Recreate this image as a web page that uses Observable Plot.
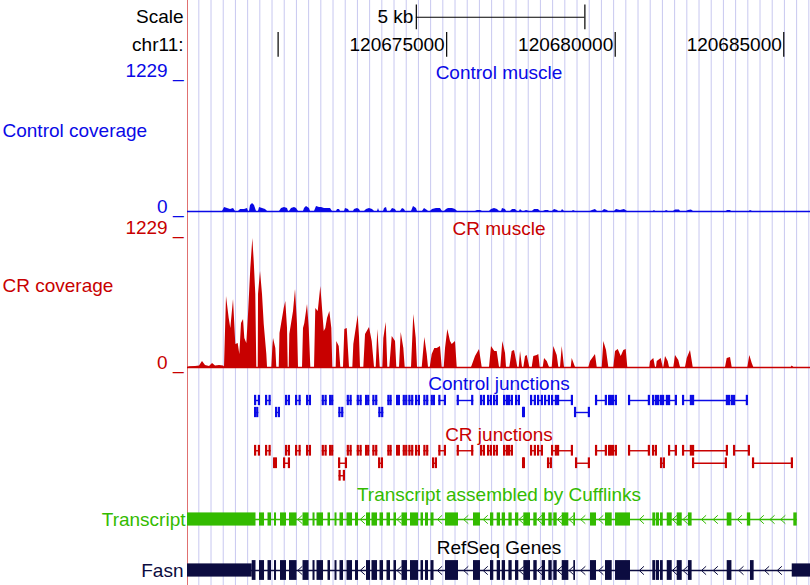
<!DOCTYPE html>
<html><head><meta charset="utf-8">
<script src="https://cdn.jsdelivr.net/npm/d3@7"></script>
<script src="https://cdn.jsdelivr.net/npm/@observablehq/plot@0.6"></script>
<style>
body{margin:0;background:#fff;}
#chart{width:810px;position:relative;}
#chart svg{display:block;}
</style></head><body><div id="chart"></div>
<script>
// Positions are kb offsets from chr11:120,670,000
const chrName = "chr11:";
const chrStart = 120670000;
const xDomain = [-2.688, 15.793];
const chrTicks = [0, 5, 10, 15];
const chrTickLabels = [5, 10, 15];
const scaleBar = [4.1, 9.1];
const scaleLabel = "5 kb";
const covMax = 1229;

const crCoverage = [[-2.688,0],[-2.628,6],[-2.450,9],[-2.332,14],[-2.243,55],[-2.154,18],[-2.035,9],[-1.946,36],[-1.857,14],[-1.738,18],[-1.620,14],[-1.590,5],[-1.531,646],[-1.451,446],[-1.403,355],[-1.323,619],[-1.255,209],[-1.184,218],[-1.136,118],[-1.086,400],[-1.026,437],[-0.988,264],[-0.928,218],[-0.878,482],[-0.810,901],[-0.750,1174],[-0.709,965],[-0.662,664],[-0.632,0],[-0.590,0],[-0.581,664],[-0.522,874],[-0.463,664],[-0.412,391],[-0.335,118],[-0.314,0],[-0.187,0],[-0.157,182],[-0.136,264],[-0.068,173],[-0.039,0],[0.033,0],[0.056,309],[0.181,537],[0.228,601],[0.279,355],[0.300,0],[0.329,0],[0.347,300],[0.457,510],[0.516,710],[0.575,391],[0.605,0],[0.724,0],[0.753,355],[0.792,400],[0.872,573],[0.923,355],[0.970,0],[1.080,0],[1.118,537],[1.190,510],[1.267,737],[1.317,537],[1.368,328],[1.415,355],[1.465,446],[1.534,510],[1.593,355],[1.623,0],[1.723,0],[1.741,237],[1.813,191],[1.860,0],[1.940,0],[1.979,346],[2.050,355],[2.118,0],[2.216,0],[2.246,209],[2.376,473],[2.415,273],[2.444,0],[2.542,0],[2.593,300],[2.711,364],[2.791,237],[2.860,0],[2.910,0],[2.958,346],[3.029,0],[3.106,0],[3.136,264],[3.207,410],[3.254,0],[3.313,0],[3.385,282],[3.483,237],[3.521,0],[3.601,0],[3.652,319],[3.729,173],[3.770,0],[3.957,0],[4.025,482],[4.097,264],[4.135,0],[4.275,0],[4.352,273],[4.423,118],[4.461,0],[4.512,0],[4.571,118],[4.648,173],[4.720,173],[4.817,191],[4.868,0],[4.927,0],[4.966,173],[5.034,346],[5.114,237],[5.164,209],[5.262,237],[5.313,0],[5.737,0],[5.856,100],[5.974,164],[6.054,0],[6.271,0],[6.330,191],[6.428,146],[6.499,146],[6.568,0],[6.606,0],[6.666,237],[6.746,127],[6.775,0],[6.873,0],[6.944,146],[7.013,155],[7.072,64],[7.110,0],[7.152,0],[7.191,146],[7.250,0],[7.289,0],[7.339,100],[7.389,109],[7.467,0],[7.538,0],[7.585,100],[7.686,109],[7.733,118],[7.775,0],[7.864,0],[7.903,82],[7.983,55],[8.051,0],[8.131,0],[8.178,191],[8.279,109],[8.327,0],[8.377,0],[8.428,191],[8.496,0],[8.695,0],[8.724,82],[8.822,0],[9.217,0],[9.267,55],[9.415,118],[9.466,0],[9.614,0],[9.662,237],[9.742,155],[9.810,0],[9.958,0],[10.009,146],[10.089,164],[10.178,100],[10.255,155],[10.326,164],[10.373,0],[11.026,0],[11.047,55],[11.145,82],[11.195,0],[11.225,0],[11.246,55],[11.364,82],[11.424,0],[11.441,0],[11.492,100],[11.572,55],[11.611,0],[11.738,0],[11.789,109],[11.886,64],[11.937,0],[12.085,0],[12.136,82],[12.233,155],[12.314,0],[13.272,0],[13.322,82],[13.420,91],[13.470,0],[13.933,0],[13.993,109],[14.064,36],[14.111,0],[15.221,0],[15.250,14],[15.298,0],[15.793,0]];

const controlCoverage = [[-2.688,0],[-1.649,0],[-1.590,36],[-1.501,27],[-1.412,18],[-1.323,27],[-1.264,0],[-1.175,0],[-1.115,18],[-0.997,18],[-0.908,27],[-0.878,0],[-0.848,0],[-0.819,55],[-0.759,73],[-0.700,55],[-0.641,0],[-0.581,0],[-0.552,36],[-0.463,27],[-0.374,18],[-0.314,0],[0.042,0],[0.101,27],[0.190,36],[0.279,27],[0.308,0],[0.338,0],[0.397,27],[0.486,36],[0.546,27],[0.605,0],[0.753,0],[0.783,27],[0.842,46],[0.931,27],[0.961,0],[1.080,0],[1.139,46],[1.228,36],[1.287,36],[1.376,27],[1.465,27],[1.554,27],[1.613,0],[1.732,0],[1.762,18],[1.821,18],[1.851,0],[1.970,0],[1.999,27],[2.088,18],[2.118,0],[2.237,0],[2.266,18],[2.355,27],[2.414,18],[2.444,0],[2.563,0],[2.622,18],[2.711,27],[2.800,18],[2.860,0],[2.948,0],[2.978,27],[3.008,0],[3.127,0],[3.156,27],[3.216,36],[3.245,0],[3.334,0],[3.393,27],[3.482,18],[3.512,0],[3.630,0],[3.690,27],[3.749,18],[3.779,0],[3.957,0],[4.016,46],[4.105,27],[4.135,0],[4.283,0],[4.342,27],[4.431,9],[4.461,0],[4.520,0],[4.580,18],[4.698,27],[4.817,27],[4.876,0],[4.936,0],[4.995,18],[5.054,27],[5.173,27],[5.262,18],[5.321,0],[5.855,0],[5.915,9],[6.004,9],[6.063,0],[6.271,0],[6.330,18],[6.419,27],[6.508,18],[6.567,0],[6.627,0],[6.656,27],[6.745,18],[6.775,0],[6.894,0],[6.953,18],[7.042,18],[7.101,0],[7.161,0],[7.190,18],[7.250,0],[7.309,0],[7.368,9],[7.457,0],[7.546,0],[7.606,18],[7.724,18],[7.783,0],[7.872,0],[7.932,9],[8.021,9],[8.050,0],[8.139,0],[8.199,18],[8.288,9],[8.317,0],[8.406,0],[8.436,18],[8.495,0],[8.732,0],[8.762,9],[8.821,0],[9.266,0],[9.326,9],[9.415,18],[9.474,0],[9.622,0],[9.682,18],[9.771,9],[9.800,0],[9.978,0],[10.037,18],[10.156,9],[10.274,18],[10.363,0],[11.135,0],[11.165,9],[11.195,0],[11.491,0],[11.521,9],[11.580,0],[11.728,0],[11.788,14],[11.906,14],[11.936,0],[12.114,0],[12.173,9],[12.262,14],[12.322,0],[13.301,0],[13.330,9],[13.419,9],[13.449,0],[13.983,0],[14.012,9],[14.072,0],[15.793,0]];

// Junctions: [start, end, row]
const controlJunctions = [[-0.700,-0.522,1],[-0.374,-0.205,1],[0.219,0.368,1],[0.516,0.685,1],[0.842,0.991,1],[1.308,1.456,1],[1.525,1.652,1],[2.050,2.198,1],[2.346,2.494,1],[2.592,2.720,1],[2.809,2.957,1],[3.254,3.384,1],[3.512,3.630,1],[3.711,3.847,1],[3.877,4.025,1],[4.075,4.224,1],[4.322,4.470,1],[4.541,4.669,1],[4.766,4.995,1],[5.312,5.805,1],[6.003,6.152,1],[6.211,6.359,1],[6.389,6.537,1],[6.686,6.834,1],[6.834,6.982,1],[7.042,7.190,1],[7.486,7.664,1],[7.694,7.872,1],[7.902,8.080,1],[8.109,8.287,1],[8.287,8.762,1],[9.414,9.770,1],[9.800,9.919,1],[9.919,10.067,1],[10.393,11.046,1],[11.105,11.254,1],[11.254,11.402,1],[11.402,11.580,1],[11.580,11.847,1],[11.995,12.292,1],[12.292,13.360,1],[13.360,13.508,1],[13.508,13.953,1],
 [-0.700,-0.572,2],[-0.077,0.071,2],[1.800,1.949,2],[2.987,3.135,2],[7.249,7.338,2],[8.791,9.266,2]];
const crJunctions = [[-0.700,-0.522,1],[-0.374,-0.205,1],[0.219,0.368,1],[0.516,0.685,1],[0.842,0.991,1],[1.308,1.456,1],[1.525,1.652,1],[2.050,2.198,1],[2.346,2.494,1],[2.592,2.720,1],[2.809,2.957,1],[3.254,3.384,1],[3.512,3.630,1],[3.711,3.847,1],[3.877,4.025,1],[4.075,4.224,1],[4.322,4.470,1],[4.766,4.995,1],[5.312,5.805,1],[6.003,6.152,1],[6.211,6.359,1],[6.389,6.537,1],[6.686,6.834,1],[6.834,6.982,1],[7.486,7.664,1],[7.694,7.872,1],[8.109,8.287,1],[8.287,8.762,1],[9.414,9.770,1],[9.800,9.919,1],[9.919,10.067,1],[10.393,11.046,1],[11.105,11.254,1],[11.580,11.847,1],[11.995,12.292,1],[12.292,13.360,1],[13.508,14.012,1],
 [-0.136,-0.018,2],[0.160,0.368,2],[1.792,2.059,2],[2.979,3.127,2],[4.580,4.728,2],[7.249,7.338,2],[7.990,8.138,2],[8.821,9.266,2],[11.342,11.491,2],[12.292,13.330,2],[14.071,15.288,2],
 [1.806,1.999,3]];

// Gene models: [start, end, kind]  kind: "utr" | "cds"
const refseqExons = [[-2.688,-0.768,"utr"],[-0.768,-0.656,"cds"],[-0.552,-0.403,"cds"],[-0.300,-0.196,"cds"],[-0.107,-0.047,"cds"],[0.071,0.249,"cds"],[0.338,0.561,"cds"],[0.739,0.917,"cds"],[1.035,1.095,"cds"],[1.154,1.347,"cds"],[1.480,1.554,"cds"],[1.688,1.747,"cds"],[1.836,1.940,"cds"],[2.044,2.207,"cds"],[2.296,2.385,"cds"],[2.622,2.741,"cds"],[2.785,2.949,"cds"],[3.023,3.127,"cds"],[3.230,3.334,"cds"],[3.438,3.512,"cds"],[3.675,3.839,"cds"],[3.927,4.165,"cds"],[4.239,4.313,"cds"],[4.372,4.461,"cds"],[4.536,4.625,"cds"],[4.966,5.351,"cds"],[5.796,6.003,"cds"],[6.300,6.398,"cds"],[6.499,6.597,"cds"],[6.648,6.746,"cds"],[6.846,6.944,"cds"],[7.042,7.140,"cds"],[7.289,7.487,"cds"],[7.585,7.686,"cds"],[7.834,7.932,"cds"],[8.030,8.131,"cds"],[8.178,8.279,"cds"],[8.428,8.624,"cds"],[8.772,8.822,"cds"],[9.267,9.445,"cds"],[9.712,9.911,"cds"],[10.009,10.453,"cds"],[11.115,11.195,"cds"],[11.216,11.314,"cds"],[11.343,11.424,"cds"],[11.543,11.691,"cds"],[11.839,11.988,"cds"],[12.172,12.281,"cds"],[13.322,13.462,"cds"],[14.012,14.121,"cds"],[15.251,15.793,"utr"]];
const transcriptExons = [[-2.688,-0.656],[-0.552,-0.403],[-0.300,-0.196],[-0.107,-0.047],[0.071,0.249],[0.338,0.561],[0.739,0.917],[1.035,1.095],[1.154,1.347],[1.480,1.554],[1.688,1.747],[1.836,1.940],[2.044,2.207],[2.296,2.385],[2.622,2.741],[2.785,2.949],[3.023,3.127],[3.230,3.334],[3.438,3.512],[3.675,3.839],[3.927,4.165],[4.239,4.313],[4.372,4.461],[4.536,4.625],[4.966,5.351],[5.796,6.003],[6.300,6.398],[6.499,6.597],[6.648,6.746],[6.846,6.944],[7.042,7.140],[7.289,7.487],[7.585,7.686],[7.834,7.932],[8.030,8.131],[8.178,8.279],[8.428,8.624],[8.772,8.822],[9.267,9.445],[9.712,9.911],[10.009,10.453],[11.115,11.195],[11.216,11.314],[11.343,11.424],[11.543,11.691],[11.839,11.988],[12.172,12.281],[13.322,13.462],[13.920,14.020],[15.298,15.399]];

const titles = {control: "Control muscle", cr: "CR muscle", cj: "Control junctions", crj: "CR junctions", tx: "Transcript assembled by Cufflinks", ref: "RefSeq Genes"};
const sideLabels = {control: "Control coverage", cr: "CR coverage", tx: "Transcript", ref: "Fasn"};

// ---------- style ----------
const FONT = "'Liberation Sans', Arial, Helvetica, sans-serif";
const BLUE = "#0a0ae6", RED = "#c80000", GREEN = "#33bb00", NAVY = "#0c0c40", GRID = "#c8c8f0", LEFTLINE = "#e07070";
const gridLines = d3.range(-2.352, 15.8, 0.3619);

function track({height, mt, mb, yDomain, marks}) {
  return Plot.plot({
    width: 810, height, marginLeft: 187, marginRight: 0, marginTop: mt, marginBottom: mb,
    x: {domain: xDomain, axis: null},
    y: {domain: yDomain, axis: null},
    style: {fontFamily: FONT, fontSize: "19px", background: "transparent", overflow: "visible"},
    marks: [
      Plot.ruleX(gridLines, {stroke: GRID, strokeWidth: 1, insetTop: -mt, insetBottom: -mb}),
      Plot.ruleX([xDomain[0]], {stroke: LEFTLINE, insetTop: -mt, insetBottom: -mb}),
      ...marks
    ]
  });
}
const left = () => xDomain[0];

function title(text, dy, fill) {
  return Plot.text([text], {frameAnchor: "top", lineAnchor: "middle", dy, fill});
}

function coverageTrack(data, color, name, height, mt, mb, sideDy, titleDy) {
  return track({height, mt, mb, yDomain: [0, covMax], marks: [
    Plot.areaY(data, {x: d => d[0], y: d => d[1], fill: color, curve: "linear"}),
    Plot.ruleY([0], {stroke: color, strokeWidth: 1.5}),
    Plot.text([`${covMax} _`], {x: left, y: () => covMax, textAnchor: "end", lineAnchor: "bottom", dx: -4, dy: 1, fill: color}),
    Plot.text(["0 _"], {x: left, y: () => 0, textAnchor: "end", lineAnchor: "bottom", dx: -4, dy: 1, fill: color}),
    Plot.text([sideLabels[name]], {frameAnchor: "left", textAnchor: "start", dx: -185, dy: sideDy, fill: color}),
    title(titles[name], titleDy, color)
  ]});
}

function junctionTrack(data, color, rows, height, mt, mb, name, titleDy) {
  const bw = 0.065;
  return track({height, mt, mb, yDomain: [rows + 0.5, 0.5], marks: [
    Plot.ruleY(data, {x1: d => d[0], x2: d => d[1], y: d => d[2], stroke: color, strokeWidth: 1.4}),
    Plot.rect(data, {x1: d => d[0], x2: d => d[0] + bw, y1: d => d[2] - 0.43, y2: d => d[2] + 0.43, fill: color}),
    Plot.rect(data, {x1: d => d[1] - bw, x2: d => d[1], y1: d => d[2] - 0.43, y2: d => d[2] + 0.43, fill: color}),
    title(titles[name], titleDy, color)
  ]});
}

const chevronSymbol = {draw(ctx, size) {
  const r = Math.sqrt(size / Math.PI);
  ctx.moveTo(r * 0.55, -r); ctx.lineTo(-r * 0.55, 0); ctx.lineTo(r * 0.55, r);
}};
function chevrons(exons) {
  const out = [];
  for (let i = 1; i < exons.length; i++) {
    const s = exons[i - 1][1], e = exons[i][0], g = e - s;
    if (g < 0.14) continue;
    const n = Math.max(1, Math.floor(g / 0.4));
    const step = g / (n + 1);
    for (let k = 1; k <= n; k++) out.push(s + k * step);
  }
  return out;
}

function geneTrack(exons, color, height, mt, mb, name, titleDy, halfTall, halfThin, labelDx) {
  const first = exons[0][0], last = exons[exons.length - 1][1];
  return track({height, mt, mb, yDomain: [1.5, 0.5], marks: [
    Plot.ruleY([1], {x1: () => first, x2: () => last, y: d => d, stroke: color, strokeWidth: 1.3}),
    Plot.dot(chevrons(exons), {x: d => d, y: () => 1, symbol: chevronSymbol, r: 4.2, stroke: color, fill: "none", strokeWidth: 1}),
    Plot.rect(exons, {x1: d => d[0], x2: d => d[1], y1: d => 1 - (d[2] === "utr" ? halfThin : halfTall), y2: d => 1 + (d[2] === "utr" ? halfThin : halfTall), fill: color}),
    Plot.text([sideLabels[name]], {x: left, y: () => 1, textAnchor: "end", dx: labelDx, fill: color}),
    title(titles[name], titleDy, name === "tx" ? GREEN : "black")
  ]});
}

const chart = document.getElementById("chart");

// Ruler
chart.append(track({height: 62, mt: 3, mb: 4, yDomain: [2.5, 0.5], marks: [
  Plot.ruleY([1], {x1: () => scaleBar[0], x2: () => scaleBar[1], y: d => d, stroke: "black", strokeWidth: 1.2}),
  Plot.ruleX(scaleBar, {x: d => d, y1: () => 0.55, y2: () => 1.45, stroke: "black", strokeWidth: 1.2}),
  Plot.text([scaleLabel], {x: () => scaleBar[0], y: () => 1, textAnchor: "end", dx: -3, fill: "black"}),
  Plot.text(["Scale"], {x: left, y: () => 1, textAnchor: "end", dx: -4, fill: "black"}),
  Plot.ruleX(chrTicks, {x: d => d, y1: () => 1.55, y2: () => 2.45, stroke: "black", strokeWidth: 1.2}),
  Plot.text(chrTickLabels, {x: d => d, y: () => 2, text: d => String(chrStart + d * 1000), textAnchor: "end", dx: -2, fill: "black"}),
  Plot.text([chrName], {x: left, y: () => 2, textAnchor: "end", dx: -4, fill: "black"})
]}));

chart.append(coverageTrack(controlCoverage, BLUE, "control", 151, 13, 2, -13, -3));
chart.append(coverageTrack(crCoverage, RED, "cr", 156, 19, 2, -14, -4));
chart.append(junctionTrack(controlJunctions, BLUE, 2, 53, 25, 4, "cj", -11));
chart.append(junctionTrack(crJunctions, RED, 3, 60, 22, 0.5, "crj", -10));
chart.append(geneTrack(transcriptExons.map(d => [d[0], d[1], "exon"]), GREEN, 50, 30, 6, "tx", -18, 0.47, 0.47, -2));
chart.append(geneTrack(refseqExons, NAVY, 53, 27, 4, "ref", -12, 0.45, 0.3, -4));
</script>
</body></html>
